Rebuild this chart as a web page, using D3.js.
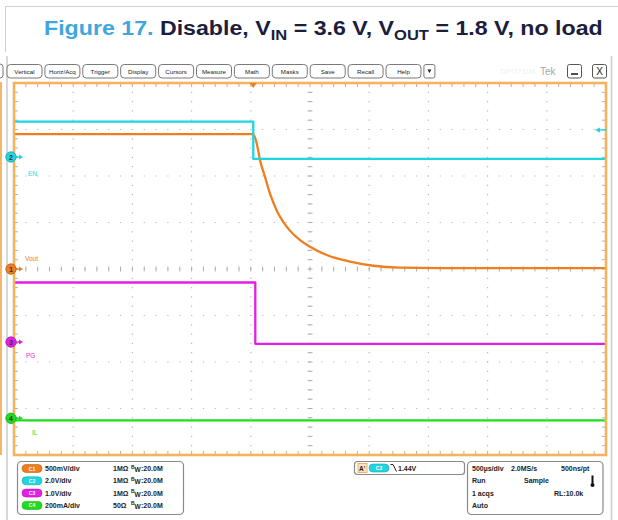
<!DOCTYPE html>
<html><head><meta charset="utf-8">
<script src="https://cdn.jsdelivr.net/npm/d3@7"></script>
<style>
html,body{margin:0;padding:0;background:#fff;}
svg{display:block;font-family:"Liberation Sans",Arial,sans-serif;}
</style></head>
<body>
<svg id="c" width="618" height="520"></svg>
<script>
// ---------- data ----------
const titleParts = ["Figure 17.", " Disable, V", "IN", " = 3.6 V, V", "OUT", " = 1.8 V, no load"];
const menuButtons = ["Vertical","Horiz/Acq","Trigger","Display","Cursors","Measure","Math","Masks","Save","Recall","Help"];
const channelIds = [1, 2, 3, 4];
const channelLabels = ["Vout", "EN", "PG", "IL"];
const channelColors = ["#f07d1e", "#1fd6e0", "#e41fe4", "#20dc20"];
const channelPerDiv = [0.5, 2.0, 1.0, 200];          // V/div, V/div, V/div, mA/div
const channelOffsetDiv = [0, 2.41, -1.57, -3.21];     // ground marker position (div)
const channelSettings = ["500mV/div", "2.0V/div", "1.0V/div", "200mA/div"];
const channelImpedance = ["1MΩ", "1MΩ", "1MΩ", "50Ω"];
const channelBandwidth = ["20.0M", "20.0M", "20.0M", "20.0M"];

// time in µs (500 µs/div, 10 div)
const timeDomain = [-2000, 3000];
const triggerTime = 20;
const triggerLevel = 1.16;   // V on C2 (arrow on right edge)
const triggerText = "1.44V";

// Vout (C1) decay
const voutTime  = [-2000, 21, 50, 78, 120, 162, 219, 303, 416, 500, 641, 838, 1035, 1260, 1600, 3000];
const voutValue = [1.45, 1.45, 1.35, 1.17, 0.99, 0.81, 0.63, 0.455, 0.31, 0.24, 0.15, 0.08, 0.035, 0.015, 0.01, 0.01];
// EN (C2)
const enTime  = [-2000, 21, 21, 3000];
const enValue = [1.52, 1.52, -0.08, -0.08];
// PG (C3)
const pgTime  = [-2000, 38, 38, 3000];
const pgValue = [1.28, 1.28, -0.04, -0.04];
// IL (C4), mA
const ilTime  = [-2000, 3000];
const ilValue = [-9, -9];

const horizInfo = [["500µs/div", "2.0MS/s", "500ns/pt"], ["Run", "Sample", ""], ["1 acqs", "", "RL:10.0k"], ["Auto", "", ""]];

// ---------- drawing ----------
const svg = d3.select("#c");
const X0 = 14, X1 = 606, Y0 = 83, Y1 = 455;
const x = d3.scaleLinear().domain(timeDomain).range([X0, X1]);
const yDiv = d3.scaleLinear().domain([-4, 4]).range([Y1, Y0]);
const chY = (i, v) => yDiv(channelOffsetDiv[i] + v / channelPerDiv[i]);

// page frame lines
svg.append("line").attr("x1",5).attr("x2",618).attr("y1",6.5).attr("y2",6.5).attr("stroke","#d0d0d0");
svg.append("line").attr("x1",5.5).attr("x2",5.5).attr("y1",6).attr("y2",52).attr("stroke","#d0d0d0");

// title
const title = svg.append("text").attr("x", 44).attr("y", 35).attr("font-size", 21).attr("font-weight", "bold");
titleParts.forEach((p, i) => {
  const t = title.append("tspan").text(p).attr("fill", i === 0 ? "#3ea8de" : "#1b1e3c");
  if (i === 2 || i === 4) t.attr("font-size", 15).attr("dy", 5);
  if (i === 3 || i === 5) t.attr("dy", -5);
});
const tw = title.node().getComputedTextLength();
const target = 603 - 44;
title.attr("transform", `translate(44,0) scale(${target / tw},1) translate(-44,0)`);

// side lines
svg.append("line").attr("x1",7).attr("x2",7).attr("y1",56).attr("y2",520).attr("stroke","#c8ccd0").attr("stroke-width",1.5);
svg.append("line").attr("x1",611.5).attr("x2",611.5).attr("y1",56).attr("y2",520).attr("stroke","#c8ccd0").attr("stroke-width",1.5);
svg.append("rect").attr("x",-2).attr("y",82).attr("width",4).attr("height",373).attr("fill","#f5b766");
svg.append("rect").attr("x",-5).attr("y",64).attr("width",8).attr("height",14).attr("rx",3).attr("fill","none").attr("stroke","#777");

// menu buttons
const bStep = 37.9, bW = 35;
menuButtons.forEach((b, i) => {
  const bx = 7 + i * bStep;
  svg.append("rect").attr("x", bx).attr("y", 64.5).attr("width", bW).attr("height", 13.5).attr("rx", 3.5)
    .attr("fill", "#fff").attr("stroke", "#6a6a6a").attr("stroke-width", 0.9);
  svg.append("text").attr("x", bx + bW / 2).attr("y", 73.5).attr("text-anchor", "middle")
    .attr("font-size", 6.2).attr("fill", "#222").text(b);
});
{
  const bx = 7 + menuButtons.length * bStep;
  svg.append("rect").attr("x", bx).attr("y", 64.5).attr("width", 11).attr("height", 13.5).attr("rx", 2)
    .attr("fill", "#fff").attr("stroke", "#6a6a6a").attr("stroke-width", 0.9);
  svg.append("path").attr("d", `M${bx+3.5},${69.5}L${bx+7.5},${69.5}L${bx+5.5},${73}Z`).attr("fill", "#222");
}
svg.append("text").attr("x", 500).attr("y", 74).attr("font-size", 8).attr("fill", "#f0f0f0").text("DPO7104");
svg.append("text").attr("x", 540).attr("y", 75).attr("font-size", 10).attr("fill", "#a8a8a8").text("Tek");
svg.append("rect").attr("x", 567.5).attr("y", 64.5).attr("width", 14).attr("height", 13.5).attr("rx", 2)
  .attr("fill", "#fff").attr("stroke", "#555").attr("stroke-width", 1);
svg.append("line").attr("x1", 571).attr("x2", 578).attr("y1", 74).attr("y2", 74).attr("stroke", "#222").attr("stroke-width", 1.6);
svg.append("rect").attr("x", 592.5).attr("y", 64.5).attr("width", 14).attr("height", 13.5).attr("rx", 2)
  .attr("fill", "#fff").attr("stroke", "#555").attr("stroke-width", 1);
svg.append("text").attr("x", 599.5).attr("y", 75).attr("text-anchor", "middle").attr("font-size", 10).attr("fill", "#222").text("X");

// grid
const g = svg.append("g");
const minorX = (X1 - X0) / 50, minorY = (Y1 - Y0) / 40;
d3.range(1, 10).forEach(k => {
  const gx = X0 + k * (X1 - X0) / 10;
  g.append("line").attr("x1", gx).attr("x2", gx).attr("y1", Y0).attr("y2", Y1)
    .attr("stroke", "#b8b8b8").attr("stroke-width", 1.2).attr("stroke-dasharray", `1.2,${minorY - 1.2}`).attr("stroke-dashoffset", 0.6);
});
d3.range(1, 8).forEach(k => {
  const gy = Y0 + k * (Y1 - Y0) / 8;
  g.append("line").attr("x1", X0).attr("x2", X1).attr("y1", gy).attr("y2", gy)
    .attr("stroke", "#b8b8b8").attr("stroke-width", 1.2).attr("stroke-dasharray", `1.2,${minorX - 1.2}`).attr("stroke-dashoffset", 0.6);
});
// ticks on centre lines and borders
const cx = (X0 + X1) / 2, cy = (Y0 + Y1) / 2;
d3.range(1, 50).forEach(k => {
  const tx = X0 + k * minorX;
  [[Y0, Y0 + 4], [Y1 - 4, Y1], [cy - 2.5, cy + 2.5]].forEach(([a, b]) =>
    g.append("line").attr("x1", tx).attr("x2", tx).attr("y1", a).attr("y2", b).attr("stroke", "#a8a8a8").attr("stroke-width", 0.9));
});
d3.range(1, 40).forEach(k => {
  const ty = Y0 + k * minorY;
  [[X0, X0 + 4], [X1 - 4, X1], [cx - 2.5, cx + 2.5]].forEach(([a, b]) =>
    g.append("line").attr("x1", a).attr("x2", b).attr("y1", ty).attr("y2", ty).attr("stroke", "#a8a8a8").attr("stroke-width", 0.9));
});

// traces
const series = [
  [voutTime, voutValue, 0],
  [enTime, enValue, 1],
  [pgTime, pgValue, 2],
  [ilTime, ilValue, 3]
];
const order = [3, 2, 0, 1];
order.forEach(si => {
  const [ts, vs, ci] = series[si];
  const pts = ts.map((t, j) => [t, vs[j]]);
  const line = d3.line().x(d => x(d[0])).y(d => chY(ci, d[1])).curve(d3.curveMonotoneX);
  svg.append("path").datum(pts).attr("d", line).attr("fill", "none")
    .attr("stroke", channelColors[ci]).attr("stroke-width", 2.3).attr("stroke-linejoin", "round");
});

// frame
svg.append("rect").attr("x", X0).attr("y", Y0).attr("width", X1 - X0).attr("height", Y1 - Y0)
  .attr("fill", "none").attr("stroke", "#f5b35e").attr("stroke-width", 2.6);

// trigger position marker
const tx0 = x(triggerTime);
svg.append("path").attr("d", `M${tx0 - 3.5},${Y0}L${tx0 + 3.5},${Y0}L${tx0},${Y0 + 5}Z`).attr("fill", "#f07d1e");
// trigger level arrow (C2)
const tly = chY(1, triggerLevel);
svg.append("line").attr("x1", 599).attr("x2", X1 + 1).attr("y1", tly).attr("y2", tly).attr("stroke", channelColors[1]).attr("stroke-width", 1.3);
svg.append("path").attr("d", `M${595},${tly}L${600},${tly - 2.5}L${600},${tly + 2.5}Z`).attr("fill", channelColors[1]);

// channel markers
const labelOffsets = [[11, -8], [14, 19], [12, 16], [18, 17]];
channelIds.forEach((id, i) => {
  const my = chY(i, 0);
  const col = channelColors[i];
  svg.append("line").attr("x1", 15).attr("x2", 20).attr("y1", my).attr("y2", my).attr("stroke", col).attr("stroke-width", 1.4);
  svg.append("path").attr("d", `M${19},${my - 2.5}L${23},${my}L${19},${my + 2.5}Z`).attr("fill", col);
  svg.append("circle").attr("cx", 11).attr("cy", my).attr("r", 5.2).attr("fill", col)
    .attr("stroke", d3.color(col).darker(0.8)).attr("stroke-width", 0.8);
  svg.append("text").attr("x", 11).attr("y", my + 2.6).attr("text-anchor", "middle").attr("font-size", 7)
    .attr("font-weight", "bold").attr("fill", "#333").text(id);
  svg.append("text").attr("x", labelOffsets[i][0] + 14).attr("y", my + labelOffsets[i][1])
    .attr("font-size", 6.5).attr("fill", col).text(channelLabels[i]);
});

// bottom-left channel panel
svg.append("rect").attr("x", 17.5).attr("y", 461.5).attr("width", 166).attr("height", 53).attr("rx", 4)
  .attr("fill", "#fff").attr("stroke", "#8a8a8a").attr("stroke-width", 1.2);
channelIds.forEach((id, i) => {
  const ry = 468.5 + i * 12.3;
  const col = channelColors[i];
  svg.append("rect").attr("x", 22).attr("y", ry - 4).attr("width", 20).attr("height", 8).attr("rx", 4)
    .attr("fill", col).attr("stroke", d3.color(col).darker(0.7)).attr("stroke-width", 0.6);
  svg.append("text").attr("x", 32).attr("y", ry + 2).attr("text-anchor", "middle").attr("font-size", 5)
    .attr("font-weight", "bold").attr("fill", "#fff").text("C" + id);
  svg.append("text").attr("x", 45).attr("y", ry + 2.5).attr("font-size", 7).attr("font-weight", "bold").attr("fill", "#222").text(channelSettings[i]);
  svg.append("text").attr("x", 113).attr("y", ry + 2.5).attr("font-size", 7).attr("font-weight", "bold").attr("fill", "#222").text(channelImpedance[i]);
  svg.append("text").attr("x", 131).attr("y", ry).attr("font-size", 5).attr("font-weight", "bold").attr("fill", "#222").text("B");
  svg.append("text").attr("x", 134.5).attr("y", ry + 3.5).attr("font-size", 6.5).attr("font-weight", "bold").attr("fill", "#222").text("W");
  svg.append("text").attr("x", 141).attr("y", ry + 2.5).attr("font-size", 7).attr("font-weight", "bold").attr("fill", "#222").text(":" + channelBandwidth[i]);
});

// trigger panel
svg.append("rect").attr("x", 354.5).attr("y", 461.5).attr("width", 110).attr("height", 13).attr("rx", 3)
  .attr("fill", "#fff").attr("stroke", "#8a8a8a").attr("stroke-width", 1.2);
svg.append("rect").attr("x", 358).attr("y", 463.5).attr("width", 9).attr("height", 9)
  .attr("fill", "#fde3c4").attr("stroke", "#f0a050").attr("stroke-width", 0.8);
svg.append("text").attr("x", 359).attr("y", 470.5).attr("font-size", 6.5).attr("font-weight", "bold").attr("fill", "#222").text("A'");
svg.append("rect").attr("x", 369).attr("y", 464).attr("width", 20).attr("height", 8).attr("rx", 4)
  .attr("fill", channelColors[1]).attr("stroke", d3.color(channelColors[1]).darker(0.7)).attr("stroke-width", 0.6);
svg.append("text").attr("x", 379).attr("y", 470).attr("text-anchor", "middle").attr("font-size", 5).attr("font-weight", "bold").attr("fill", "#fff").text("C2");
svg.append("path").attr("d", "M390.5,464.5L393,464.5L396.5,471.5").attr("fill", "none").attr("stroke", "#222").attr("stroke-width", 1);
svg.append("text").attr("x", 398).attr("y", 470.5).attr("font-size", 7).attr("font-weight", "bold").attr("fill", "#222").text(triggerText);

// horizontal panel
svg.append("rect").attr("x", 467.5).attr("y", 461.5).attr("width", 135.5).attr("height", 53).attr("rx", 4)
  .attr("fill", "#fff").attr("stroke", "#8a8a8a").attr("stroke-width", 1.2);
const colX = [[472, 511, 561], [472, 524, 0], [472, 0, 554], [472, 0, 0]];
horizInfo.forEach((row, r) => {
  const ry = 468.5 + r * 12.3;
  row.forEach((t, c) => {
    if (!t) return;
    svg.append("text").attr("x", colX[r][c]).attr("y", ry + 2.5).attr("font-size", 7).attr("font-weight", "bold").attr("fill", "#222").text(t);
  });
});
// thermometer icon
svg.append("rect").attr("x", 591.5).attr("y", 475.5).attr("width", 2).attr("height", 8).attr("fill", "#111");
svg.append("circle").attr("cx", 592.5).attr("cy", 485).attr("r", 2).attr("fill", "#111");
</script>
</body></html>
